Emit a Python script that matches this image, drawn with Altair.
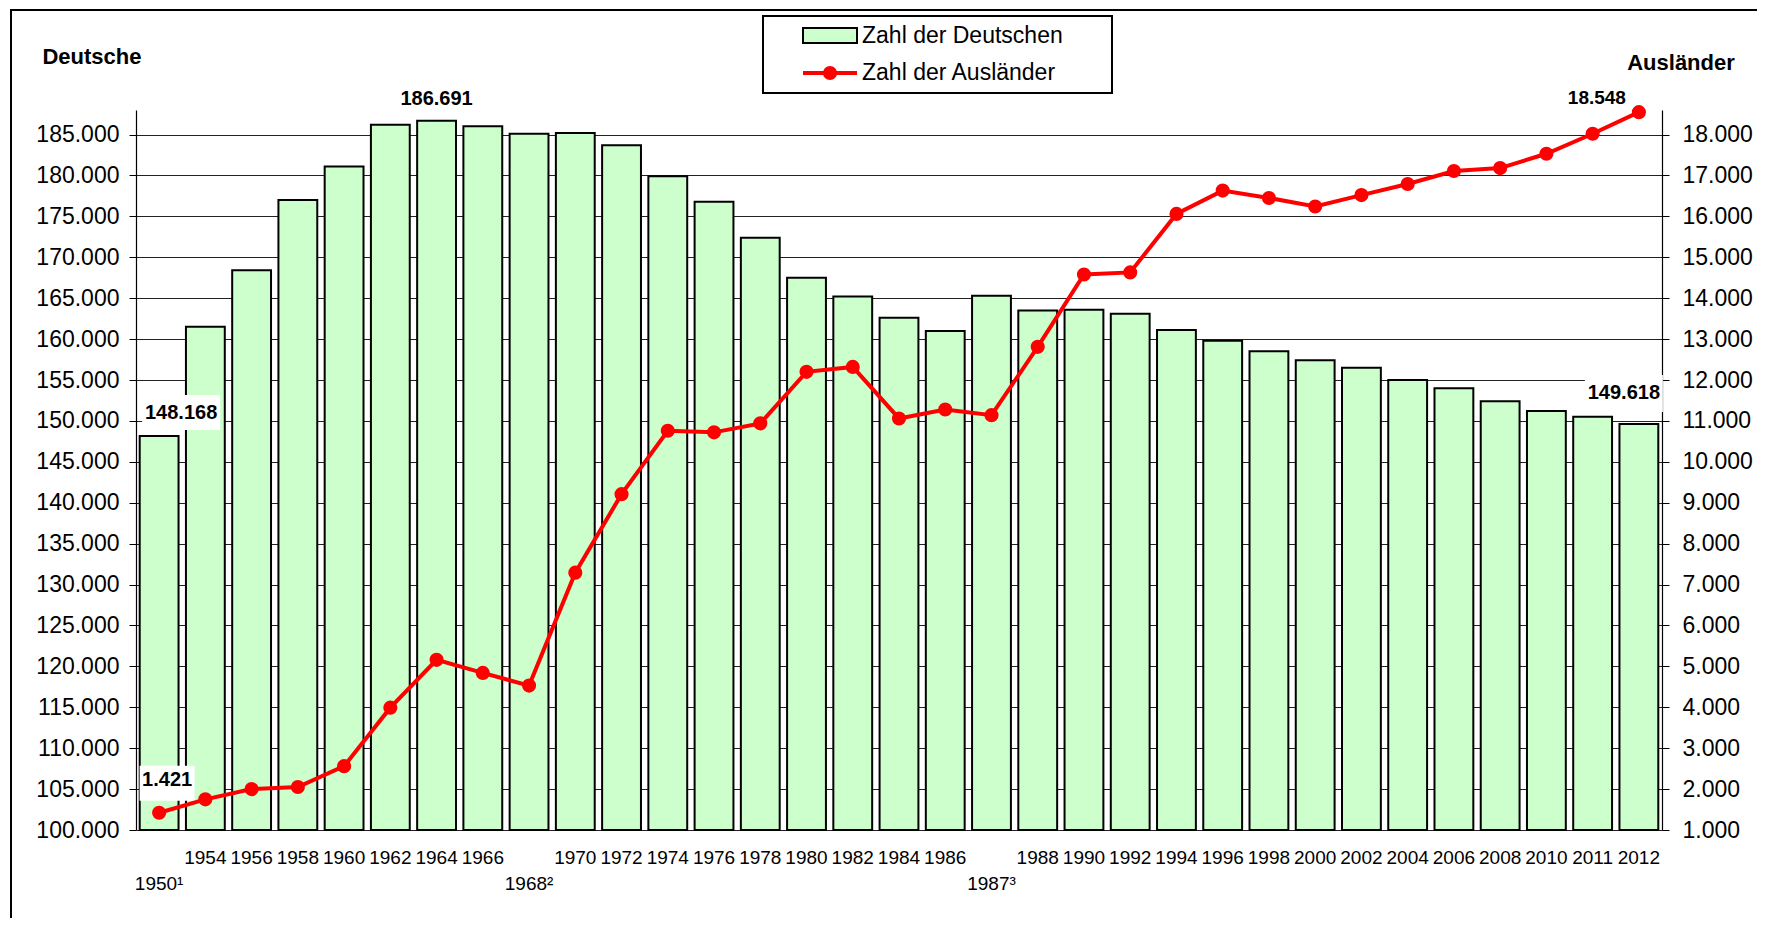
import altair as alt
import pandas as pd

# ---------------- data ----------------
cats = ["1950¹", "1954", "1956", "1958", "1960", "1962", "1964", "1966", "1968²",
        "1970", "1972", "1974", "1976", "1978", "1980", "1982", "1984", "1986",
        "1987³", "1988", "1990", "1992", "1994", "1996", "1998", "2000", "2002",
        "2004", "2006", "2008", "2010", "2011", "2012"]

deutsche = [148168, 161500, 168400, 177000, 181100, 186200, 186691, 186000, 185100,
            185200, 183700, 179900, 176800, 172400, 167500, 165200, 162600, 161000,
            165300, 163500, 163600, 163100, 161100, 159800, 158500, 157400, 156500,
            155000, 154000, 152400, 151200, 150500, 149618]

auslaender = [1421, 1750, 2000, 2050, 2560, 3990, 5160, 4840, 4530,
              7290, 9210, 10760, 10720, 10940, 12200, 12320, 11060, 11280,
              11140, 12810, 14580, 14630, 16060, 16630, 16450, 16240, 16520,
              16790, 17110, 17180, 17530, 18020, 18548]

legend_labels = ["Zahl der Deutschen", "Zahl der Ausländer"]
left_title = "Deutsche"
right_title = "Ausländer"
superscripts = "¹²³"


def de(v):
    return f"{v:,.0f}".replace(",", ".")


df = pd.DataFrame({"jahr": cats, "deu": deutsche, "aus": auslaender})
second_row = [any(s in c for s in superscripts) for c in cats]
df_row1 = df[[not r for r in second_row]]
df_row2 = df[second_row]

W, H = 1526, 720
FONT = "Liberation Sans"
GREEN = "#CCFFCC"
RED = "#FF0000"

xscale = alt.Scale(domain=cats, paddingInner=0.16, paddingOuter=0.08)
X_axis = alt.X("jahr:N", sort=cats, scale=xscale,
               axis=alt.Axis(labels=False, title=None, bandPosition=0, ticks=True,
                             tickSize=6, tickColor="black", tickWidth=1,
                             domainColor="black", domainWidth=1.5, grid=False))
X_na = alt.X("jahr:N", sort=cats, scale=xscale, axis=None)

yL = alt.Scale(domain=[100000, 188000], nice=False, zero=False)
yR = alt.Scale(domain=[1000, 18600], nice=False, zero=False)
fmt = "replace(format(datum.value, ',.0f'), ',', '.')"

left_axis = alt.Axis(values=list(range(100000, 185001, 5000)), labelExpr=fmt, title=None,
                     grid=True, gridColor="#222222", gridWidth=1, tickSize=7,
                     tickColor="black", domainColor="black", domainWidth=1.2,
                     labelFontSize=23, labelPadding=10, labelColor="black",
                     labelFont=FONT, orient="left")
right_axis = alt.Axis(values=list(range(1000, 18001, 1000)), labelExpr=fmt, title=None,
                      grid=False, tickSize=7, tickColor="black", domainColor="black",
                      domainWidth=1.2, labelFontSize=23, labelPadding=13,
                      labelColor="black", labelFont=FONT, orient="right")

one = pd.DataFrame({"a": [0]})

# ---------------- decoration ----------------
border = alt.Chart(one).mark_rect(fillOpacity=0, stroke="black", strokeWidth=2).encode(
    x=alt.value(-125), x2=alt.value(1700), y=alt.value(-100), y2=alt.value(900))

# ---------------- bars (left axis) ----------------
bars = alt.Chart(df).mark_bar(fill=GREEN, stroke="black", strokeWidth=2).encode(
    x=X_axis, y=alt.Y("deu:Q", scale=yL, axis=left_axis), y2=alt.datum(100000))

a_first = pd.DataFrame({"jahr": [cats[0]], "deu": [deutsche[0]], "lab": [de(deutsche[0])]})
imax = deutsche.index(max(deutsche))
a_max = pd.DataFrame({"jahr": [cats[imax]], "deu": [deutsche[imax]], "lab": [de(deutsche[imax])]})
a_last = pd.DataFrame({"jahr": [cats[-1]], "deu": [deutsche[-1]], "lab": [de(deutsche[-1])]})


def box(d, field, scale, w, xo, yo, y2o):
    return alt.Chart(d).mark_bar(fill="white", width=w, xOffset=xo, yOffset=yo,
                                 y2Offset=y2o).encode(
        x=X_na, y=alt.Y(f"{field}:Q", scale=scale, axis=None), y2=alt.Y2(field))


def lab(d, field, scale, dx, dy, size=20):
    return alt.Chart(d).mark_text(fontSize=size, fontWeight="bold", dx=dx, dy=dy,
                                  align="center", baseline="middle", color="black",
                                  font=FONT).encode(
        x=X_na, y=alt.Y(f"{field}:Q", scale=scale, axis=None), text="lab:N")


box_first = box(a_first, "deu", yL, 78, 22, -41, -6)
box_last = box(a_last, "deu", yL, 78, -15, -49, -12)
lab_first = lab(a_first, "deu", yL, 22, -23)
lab_max = lab(a_max, "deu", yL, 0, -22)
lab_last = lab(a_last, "deu", yL, -15, -31)

xl1 = alt.Chart(df_row1).mark_text(fontSize=19, baseline="middle", align="center",
                                    color="black", font=FONT).encode(
    x=X_na, y=alt.value(H + 28), text="jahr:N")
xl2 = alt.Chart(df_row2).mark_text(fontSize=19, baseline="middle", align="center",
                                    color="black", font=FONT).encode(
    x=X_na, y=alt.value(H + 54), text="jahr:N")

t_left = alt.Chart(one).mark_text(fontSize=22, fontWeight="bold", align="center",
                                  baseline="middle", font=FONT, color="black").encode(
    x=alt.value(-44), y=alt.value(-53), text=alt.value(left_title))
t_right = alt.Chart(one).mark_text(fontSize=22, fontWeight="bold", align="center",
                                   baseline="middle", font=FONT, color="black").encode(
    x=alt.value(1545), y=alt.value(-47), text=alt.value(right_title))

# manual legend
leg_box = alt.Chart(one).mark_rect(fill="white", stroke="black", strokeWidth=2).encode(
    x=alt.value(627), x2=alt.value(976), y=alt.value(-94), y2=alt.value(-17))
leg_sym1 = alt.Chart(one).mark_rect(fill=GREEN, stroke="black", strokeWidth=2).encode(
    x=alt.value(667), x2=alt.value(721), y=alt.value(-82), y2=alt.value(-67))
leg_txt1 = alt.Chart(one).mark_text(fontSize=23, align="left", baseline="middle",
                                    font=FONT, color="black").encode(
    x=alt.value(726), y=alt.value(-74), text=alt.value(legend_labels[0]))
leg_line = alt.Chart(one).mark_rule(color=RED, strokeWidth=4).encode(
    x=alt.value(667), x2=alt.value(721), y=alt.value(-37))
leg_pt = alt.Chart(one).mark_circle(color=RED, size=200, opacity=1).encode(
    x=alt.value(694), y=alt.value(-37))
leg_txt2 = alt.Chart(one).mark_text(fontSize=23, align="left", baseline="middle",
                                    font=FONT, color="black").encode(
    x=alt.value(726), y=alt.value(-37), text=alt.value(legend_labels[1]))

# ---------------- line (right axis) ----------------
p_first = pd.DataFrame({"jahr": [cats[0]], "aus": [auslaender[0]], "lab": [de(auslaender[0])]})
p_last = pd.DataFrame({"jahr": [cats[-1]], "aus": [auslaender[-1]], "lab": [de(auslaender[-1])]})

pbox_first = box(p_first, "aus", yR, 55, 8, -47, -12)
line = alt.Chart(df).mark_line(color=RED, strokeWidth=4).encode(
    x=X_na, y=alt.Y("aus:Q", scale=yR, axis=right_axis))
pts = alt.Chart(df).mark_circle(color=RED, size=200, opacity=1).encode(
    x=X_na, y=alt.Y("aus:Q", scale=yR, axis=None))
plab_first = lab(p_first, "aus", yR, 8, -33)
plab_last = lab(p_last, "aus", yR, -42, -14, size=19)

chart = alt.layer(
    border, bars, box_first, box_last, lab_first, lab_max, lab_last,
    xl1, xl2, t_left, t_right,
    leg_box, leg_sym1, leg_txt1, leg_line, leg_pt, leg_txt2,
    pbox_first, line, pts, plab_first, plab_last,
).resolve_scale(y="independent").properties(
    width=W, height=H,
    padding={"left": 128, "top": 102, "right": 95, "bottom": 88},
    autosize=alt.AutoSizeParams(type="none"),
    background="white",
).configure_view(strokeWidth=0)

chart.save("out.html", embed_options={"renderer": "svg", "actions": False})
